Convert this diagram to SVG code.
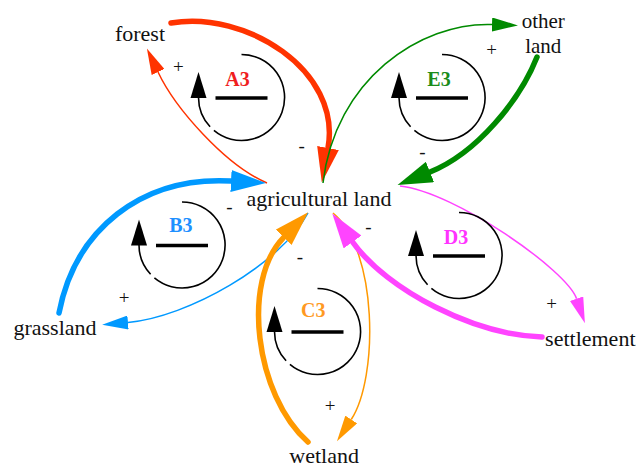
<svg xmlns="http://www.w3.org/2000/svg" width="638" height="467" viewBox="0 0 638 467">
<style>
  .node { font-family: "Liberation Serif", "Times New Roman", serif; font-size: 22px; fill: #111; text-anchor: middle; }
  .node.small { font-size: 21px; }
  .sign { font-family: "Liberation Serif", "Times New Roman", serif; font-size: 19px; fill: #111; text-anchor: middle; }
  .loopname { font-family: "Liberation Serif", "Times New Roman", serif; font-size: 20px; font-weight: bold; text-anchor: middle; }
  .thick { fill: none; stroke-width: 5.5; stroke-linecap: round; }
  .thin { fill: none; stroke-width: 1.5; }
</style>
<defs>
  <marker id="hk-red" viewBox="0 -11 35 22" markerWidth="35" markerHeight="22" refX="0" refY="0" orient="auto" markerUnits="userSpaceOnUse"><path d="M0,-11 L35,0 L0,11 z" fill="#ff3300"/></marker>
  <marker id="hn-red" viewBox="0 -7 26 14" markerWidth="26" markerHeight="14" refX="0" refY="0" orient="auto" markerUnits="userSpaceOnUse"><path d="M0,-7 L26,0 L0,7 z" fill="#ff3300"/></marker>
  <marker id="hk-green" viewBox="0 -11 35 22" markerWidth="35" markerHeight="22" refX="0" refY="0" orient="auto" markerUnits="userSpaceOnUse"><path d="M0,-11 L35,0 L0,11 z" fill="#008a00"/></marker>
  <marker id="hn-green" viewBox="0 -7 26 14" markerWidth="26" markerHeight="14" refX="0" refY="0" orient="auto" markerUnits="userSpaceOnUse"><path d="M0,-7 L26,0 L0,7 z" fill="#008a00"/></marker>
  <marker id="hk-blue" viewBox="0 -11 35 22" markerWidth="35" markerHeight="22" refX="0" refY="0" orient="auto" markerUnits="userSpaceOnUse"><path d="M0,-11 L35,0 L0,11 z" fill="#0099ff"/></marker>
  <marker id="hn-blue" viewBox="0 -7 26 14" markerWidth="26" markerHeight="14" refX="0" refY="0" orient="auto" markerUnits="userSpaceOnUse"><path d="M0,-7 L26,0 L0,7 z" fill="#0099ff"/></marker>
  <marker id="hk-orange" viewBox="0 -11 35 22" markerWidth="35" markerHeight="22" refX="0" refY="0" orient="auto" markerUnits="userSpaceOnUse"><path d="M0,-11 L35,0 L0,11 z" fill="#ff9900"/></marker>
  <marker id="hn-orange" viewBox="0 -7 26 14" markerWidth="26" markerHeight="14" refX="0" refY="0" orient="auto" markerUnits="userSpaceOnUse"><path d="M0,-7 L26,0 L0,7 z" fill="#ff9900"/></marker>
  <marker id="hk-magenta" viewBox="0 -11 35 22" markerWidth="35" markerHeight="22" refX="0" refY="0" orient="auto" markerUnits="userSpaceOnUse"><path d="M0,-11 L35,0 L0,11 z" fill="#ff44ff"/></marker>
  <marker id="hn-magenta" viewBox="0 -7 26 14" markerWidth="26" markerHeight="14" refX="0" refY="0" orient="auto" markerUnits="userSpaceOnUse"><path d="M0,-7 L26,0 L0,7 z" fill="#ff44ff"/></marker>
  <g id="loopSym">
    <path d="M0,-43 A43,43 0 1 1 -27.6,32.9" fill="none" stroke="#000" stroke-width="1.6"/>
    <path d="M-31.4,29.3 A43,43 0 0 1 -43,0" fill="none" stroke="#000" stroke-width="1.6"/>
    <path d="M-51,0.5 L-35,0.5 L-43,-25.5 z" fill="#000"/>
    <line x1="-26" y1="0.5" x2="26" y2="0.5" stroke="#000" stroke-width="3.5"/>
  </g>
</defs>
<rect width="638" height="467" fill="#fff"/>

<g id="connectors">
  <path class="thick" stroke="#ff3300" d="M171,23 C245,10 342,70 328,148" marker-end="url(#hk-red)"/>
  <path class="thin" stroke="#ff3300" d="M267,183 C225,165 175,108 158,72" marker-end="url(#hn-red)"/>
  <path class="thin" stroke="#008a00" d="M323,183 C335,80 420,22 492,24.5" marker-end="url(#hn-green)"/>
  <path class="thick" stroke="#008a00" d="M537,57 C520,100 477,153 430,172" marker-end="url(#hk-green)"/>
  <path class="thick" stroke="#0099ff" d="M59,313 C75,230 141,176 231,181" marker-end="url(#hk-blue)"/>
  <path class="thin" stroke="#0099ff" d="M308,213 C280,265 188,317 128,322.5" marker-end="url(#hn-blue)"/>
  <path class="thick" stroke="#ff9900" d="M308,442 C255,395 241,281 283.7,237.3" marker-end="url(#hk-orange)"/>
  <path class="thin" stroke="#ff9900" d="M333,213 C378,250 378.6,377.7 351.2,419.5" marker-end="url(#hn-orange)"/>
  <path class="thick" stroke="#ff44ff" d="M542,337 C475,335 387.5,290.8 352.6,242" marker-end="url(#hk-magenta)"/>
  <path class="thin" stroke="#ff44ff" d="M400,186 C455,192 567,270.3 576.6,298.7" marker-end="url(#hn-magenta)"/>
  <text class="sign" x="178.3" y="73.3">+</text>
  <text class="sign" x="301.7" y="151.7">-</text>
  <text class="sign" x="491.7" y="55.7">+</text>
  <text class="sign" x="422.3" y="157.7">-</text>
  <text class="sign" x="229.3" y="213.3">-</text>
  <text class="sign" x="124" y="304.3">+</text>
  <text class="sign" x="368.3" y="233.3">-</text>
  <text class="sign" x="551.7" y="310">+</text>
  <text class="sign" x="300" y="263.3">-</text>
  <text class="sign" x="330" y="411.7">+</text>
</g>

<g id="loop-A3"><use href="#loopSym" x="241.5" y="97.5"/><text class="loopname" x="237.5" y="86" fill="#f01e1e">A3</text></g>
<g id="loop-E3"><use href="#loopSym" x="442" y="97.5"/><text class="loopname" x="439" y="86" fill="#1a8c1a">E3</text></g>
<g id="loop-B3"><use href="#loopSym" x="182" y="245"/><text class="loopname" x="180.8" y="231.7" fill="#1e90ff">B3</text></g>
<g id="loop-D3"><use href="#loopSym" x="459" y="255.5"/><text class="loopname" x="456" y="244" fill="#ff33ff">D3</text></g>
<g id="loop-C3"><use href="#loopSym" x="317.5" y="331.5"/><text class="loopname" x="313.3" y="317.3" fill="#ff9922">C3</text></g>

<g id="node-agricultural-land"><text class="node" x="319" y="206">agricultural land</text></g>
<g id="node-forest"><text class="node" x="140" y="41">forest</text></g>
<g id="node-other-land"><text class="node small" x="543.3" y="28">other</text><text class="node small" x="543.3" y="52.5">land</text></g>
<g id="node-grassland"><text class="node" x="55" y="335">grassland</text></g>
<g id="node-settlement"><text class="node" x="590.3" y="346">settlement</text></g>
<g id="node-wetland"><text class="node" x="324.2" y="463.3">wetland</text></g>
</svg>
